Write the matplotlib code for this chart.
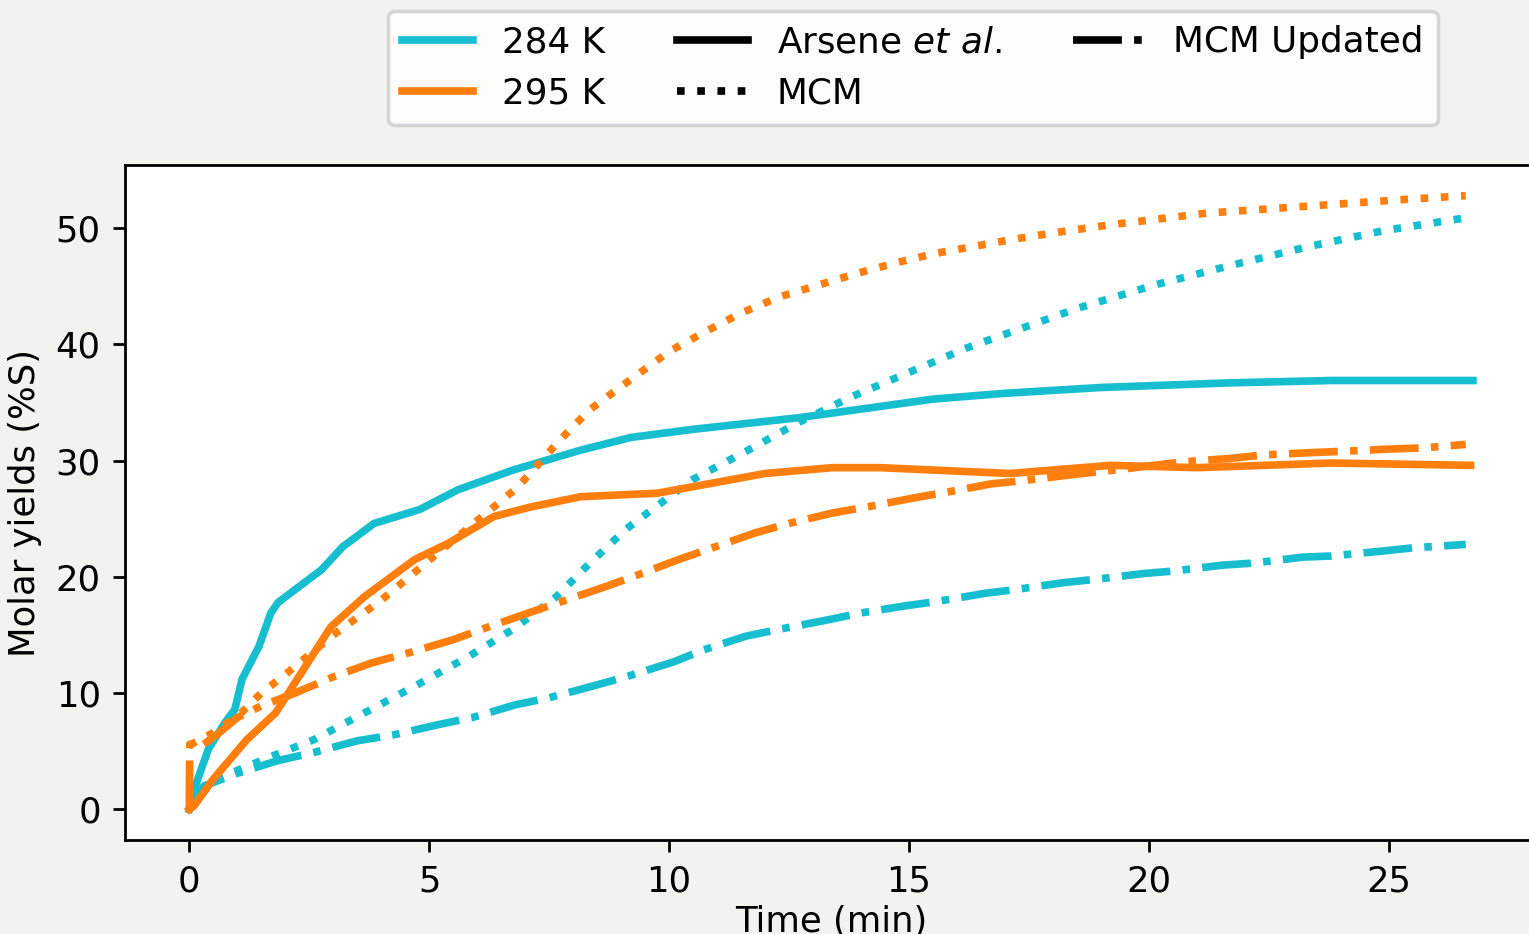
import matplotlib.pyplot as plt
from matplotlib.lines import Line2D

plt.rcParams['font.size'] = 10.2

c284 = '#17becf'
c295 = '#ff7f0e'

# Arsene et al., 284 K
t_ars_284 = [0, 0.1, 0.4, 0.75, 0.95, 1.1, 1.45, 1.7, 1.85, 2.3, 2.75, 3.2, 3.85, 4.8,
             5.6, 6.75, 8.15, 9.2, 10.5, 12.7, 15.5, 17.0, 19.0, 21.7, 23.8, 26.75]
y_ars_284 = [0, 1.7, 5.2, 7.5, 8.6, 11.2, 14.0, 16.9, 17.8, 19.2, 20.6, 22.6, 24.6, 25.8,
             27.5, 29.2, 30.9, 32.0, 32.7, 33.7, 35.3, 35.8, 36.3, 36.7, 36.9, 36.9]

# Arsene et al., 295 K
t_ars_295 = [0, 0.1, 0.5, 1.2, 1.8, 2.25, 2.95, 3.65, 4.7, 5.4, 6.35, 7.1, 8.15, 9.2,
             9.75, 12.0, 13.4, 14.4, 17.1, 19.2, 21.0, 23.8, 26.7]
y_ars_295 = [0, 0.3, 2.6, 6.0, 8.3, 11.2, 15.7, 18.3, 21.5, 22.9, 25.2, 26.0, 26.9, 27.1,
             27.2, 28.9, 29.4, 29.4, 28.9, 29.6, 29.4, 29.8, 29.6]

# MCM, 284 K
t_mcm_284 = [0, 0.5, 1.8, 2.6, 3.65, 4.7, 5.8, 6.75, 7.65, 8.35, 9.1, 9.45, 10.5, 11.6,
             12.7, 13.8, 15.0, 16.2, 17.35, 18.5, 20.1, 21.7, 23.3, 24.9, 26.6]
y_mcm_284 = [0, 2.5, 4.7, 6.0, 8.3, 10.6, 13.1, 15.5, 18.3, 21.2, 24.1, 25.2, 28.4, 30.8,
             33.3, 35.5, 37.6, 39.7, 41.4, 43.1, 45.1, 46.8, 48.4, 49.8, 50.9]

# MCM, 295 K
t_mcm_295 = [0, 0.5, 1.08, 1.5, 2.0, 2.5, 3.0, 4.0, 4.96, 5.93, 6.84, 7.73, 8.35, 9.04,
             10.0, 10.8, 11.5, 12.3, 13.1, 13.9, 14.7, 15.5, 16.3, 17.1, 18.0, 19.2,
             21.2, 23.3, 25.4, 26.6]
y_mcm_295 = [5.5, 6.6, 8.3, 10.0, 11.6, 13.3, 15.0, 18.0, 21.3, 24.6, 27.7, 31.8, 34.4, 36.5,
             39.4, 41.2, 42.7, 44.1, 45.1, 46.1, 47.0, 47.8, 48.4, 49.0, 49.6, 50.3,
             51.3, 51.9, 52.5, 52.8]

# MCM Updated, 284 K
t_upd_284 = [0, 0.3, 1.0, 1.85, 2.6, 3.5, 4.25, 5.2, 5.9, 6.8, 7.5, 8.4, 9.1, 10.1, 10.7,
             11.6, 12.3, 13.3, 14.0, 14.9, 15.6, 16.6, 17.2, 18.2, 18.9, 19.9, 20.5,
             21.5, 22.2, 23.2, 23.8, 24.8, 25.5, 26.6]
y_upd_284 = [0, 2.0, 3.1, 4.2, 4.9, 5.9, 6.4, 7.3, 7.9, 9.0, 9.6, 10.6, 11.4, 12.7, 13.7,
             14.9, 15.5, 16.3, 16.9, 17.5, 17.9, 18.6, 18.9, 19.5, 19.8, 20.3, 20.5,
             21.0, 21.2, 21.7, 21.8, 22.2, 22.5, 22.8]

# MCM Updated, 295 K
t_upd_295 = [0, 0.01, 0.2, 0.6, 1.0, 1.5, 2.2, 3.0, 3.8, 4.6, 5.5, 6.1, 7.0, 7.7, 8.7, 9.3,
             10.2, 10.9, 11.8, 12.5, 13.4, 14.1, 15.1, 15.8, 16.7, 17.4, 18.4, 19.5,
             20.7, 21.7, 22.4, 23.4, 24.0, 25.0, 25.7, 26.6]
y_upd_295 = [0, 5.6, 5.3, 6.5, 7.9, 8.9, 10.0, 11.4, 12.6, 13.5, 14.6, 15.5, 16.8, 17.8, 19.2,
             20.1, 21.5, 22.5, 23.8, 24.6, 25.5, 26.0, 26.8, 27.3, 28.0, 28.3, 28.8, 29.3,
             29.9, 30.2, 30.5, 30.7, 30.8, 31.0, 31.1, 31.4]

lw = 2.2
fig = plt.figure(figsize=(6.116, 3.736), dpi=250, facecolor='#f2f2ee')
ax = fig.add_axes([0.0818, 0.1006, 0.9235, 0.7227])

ax.plot(t_ars_284, y_ars_284, color=c284, lw=lw, ls='-')
ax.plot(t_mcm_284, y_mcm_284, color=c284, lw=lw, ls=':')
ax.plot(t_upd_284, y_upd_284, color=c284, lw=lw, ls='-.')
ax.plot(t_ars_295, y_ars_295, color=c295, lw=lw, ls='-')
ax.plot(t_mcm_295, y_mcm_295, color=c295, lw=lw, ls=':')
ax.plot(t_upd_295, y_upd_295, color=c295, lw=lw, ls='-.')

ax.set_xlabel('Time (min)', labelpad=2)
ax.set_ylabel('Molar yields (%S)')

handles = [
    Line2D([], [], color=c284, lw=lw),
    Line2D([], [], color=c295, lw=lw),
    Line2D([], [], color='black', lw=lw, ls='-'),
    Line2D([], [], color='black', lw=lw, ls=':'),
    Line2D([], [], color='black', lw=lw, ls='-.'),
]
labels = ['284 K', '295 K', r'Arsene $\it{et\ al.}$', 'MCM', 'MCM Updated']
fig.legend(handles, labels, ncol=3, loc='upper center', fontsize=10.3,
           bbox_to_anchor=(0.597, 1.0), borderaxespad=0.3)

fig.savefig('out.png', dpi=250, facecolor=fig.get_facecolor())
